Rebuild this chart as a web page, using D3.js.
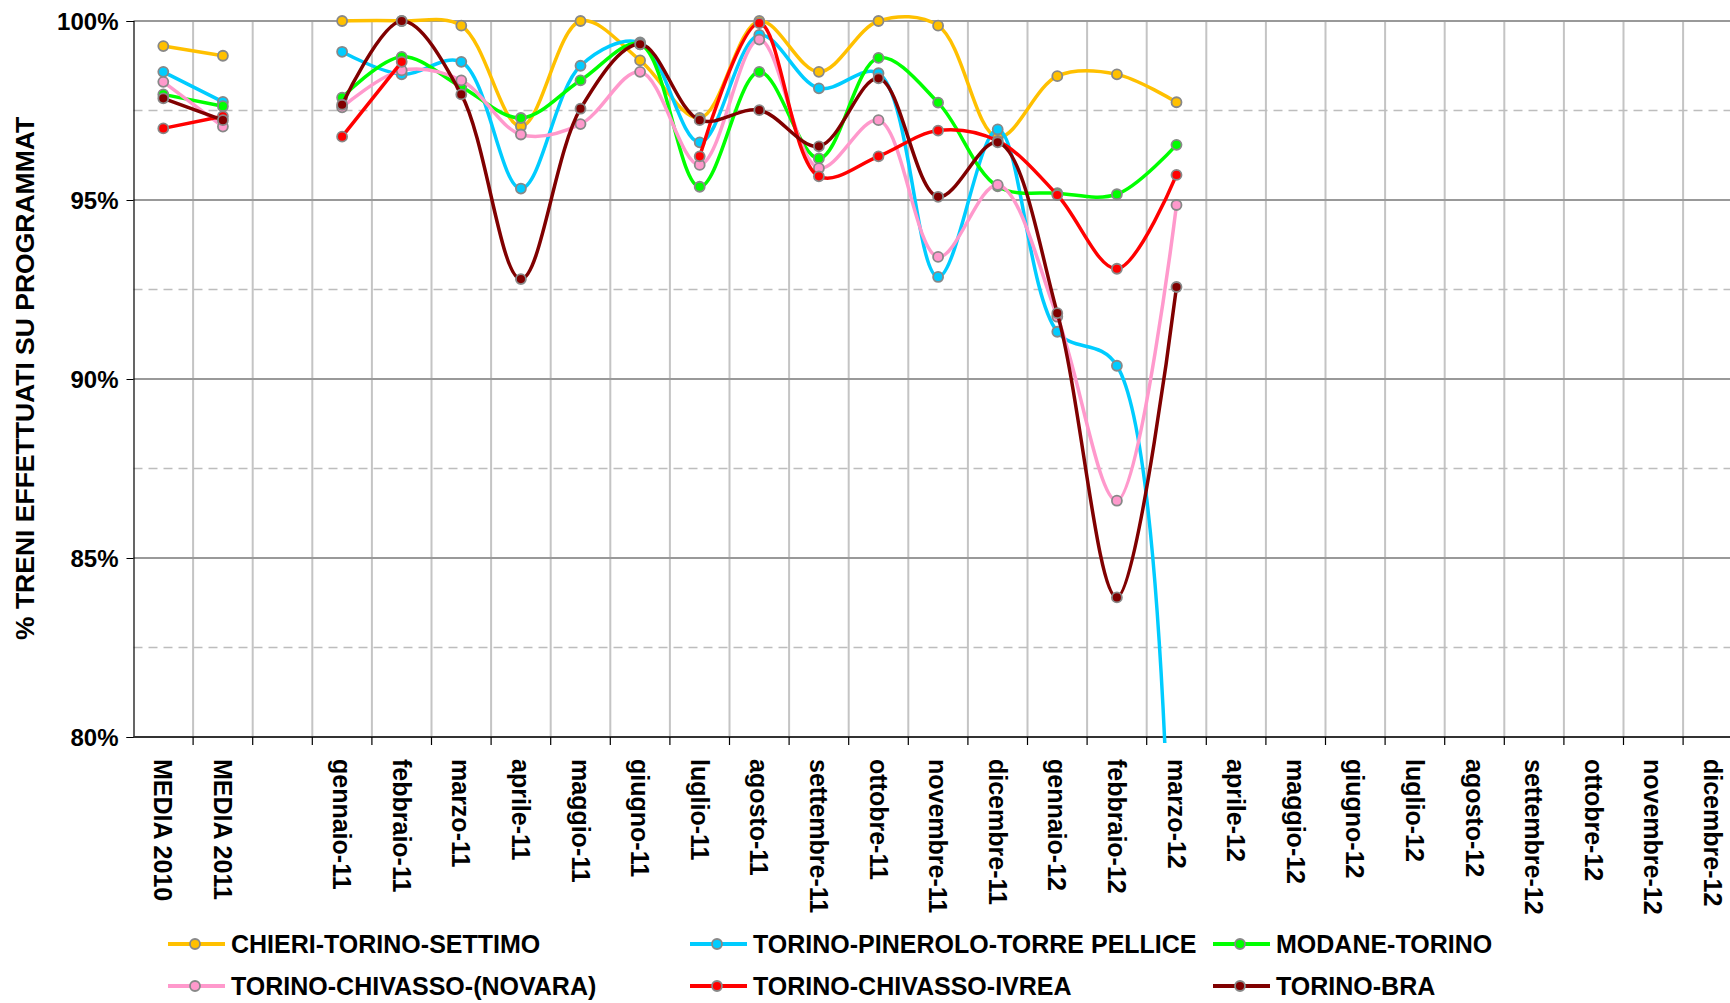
<!DOCTYPE html>
<html>
<head>
<meta charset="utf-8">
<script src="https://cdn.jsdelivr.net/npm/d3@7"></script>
<style>
  body { margin: 0; background: #fff; }
  text { font-family: "Liberation Sans", Arial, sans-serif; font-weight: bold; fill: #000; }
</style>
</head>
<body>
<div id="chart"></div>
<script>
// Categories (blank slot separates the yearly averages from the months)
let categories = ["MEDIA 2010", "MEDIA 2011", "",
  "gennaio-11", "febbraio-11", "marzo-11", "aprile-11", "maggio-11", "giugno-11",
  "luglio-11", "agosto-11", "settembre-11", "ottobre-11", "novembre-11", "dicembre-11",
  "gennaio-12", "febbraio-12", "marzo-12", "aprile-12", "maggio-12", "giugno-12",
  "luglio-12", "agosto-12", "settembre-12", "ottobre-12", "novembre-12", "dicembre-12"];

let seriesNames = ["CHIERI-TORINO-SETTIMO", "TORINO-PINEROLO-TORRE PELLICE", "MODANE-TORINO",
  "TORINO-CHIVASSO-(NOVARA)", "TORINO-CHIVASSO-IVREA", "TORINO-BRA"];
let seriesColors = ["#FFC000", "#00CCFF", "#00FF00", "#FF99CC", "#FF0000", "#800000"];

// values in %, null = no data
let chieri   = [99.30, 99.03, null, 100.0, 100.0, 99.87, 97.06, 100.0, 98.90, 97.29, 100.0, 98.58, 100.0, 99.87, 96.75, 98.46, 98.51, 97.73];
let pinerolo = [98.58, 97.74, null, 99.14, 98.51, 98.86, 95.32, 98.75, 99.40, 96.61, 99.61, 98.12, 98.54, 92.85, 96.97, 91.32, 90.37, 62.0];
let modane   = [97.95, 97.62, null, 97.86, 99.00, 98.16, 97.29, 98.34, 99.35, 95.37, 98.58, 96.16, 98.97, 97.72, 95.38, 95.19, 95.16, 96.54];
let novara   = [98.30, 97.05, null, 97.59, 98.62, 98.34, 96.83, 97.12, 98.58, 95.98, 99.48, 95.89, 97.23, 93.41, 95.42, 91.74, 86.60, 94.86];
let ivrea    = [97.00, 97.34, null, 96.77, 98.86, null, null, null, null, 96.22, 99.94, 95.66, 96.22, 96.94, 96.65, 95.14, 93.08, 95.70];
let bra      = [97.84, 97.23, null, 97.66, 100.0, 97.95, 92.79, 97.55, 99.35, 97.23, 97.51, 96.50, 98.40, 95.09, 96.61, 91.84, 83.90, 92.57];

let allSeries = [chieri, pinerolo, modane, novara, ivrea, bra];

let yTicks = [80, 85, 90, 95, 100];
let yMinor = [82.5, 87.5, 92.5, 97.5];

let svgWidth = 1730;
let svgHeight = 1003;

let plotLeft = 133.5;
let plotTop = 21;
let plotBottom = 737;
let step = 59.6;

let svg = d3.select("#chart")
  .append("svg")
  .attr("width", svgWidth)
  .attr("height", svgHeight);

let x = d3.scaleBand()
  .domain(categories)
  .range([plotLeft, plotLeft + step * categories.length])
  .padding(0);

let y = d3.scaleLinear()
  .domain([80, 100])
  .range([plotBottom, plotTop]);

// clip for the plot contents
let defs = svg.append("defs");
defs.append("clipPath").attr("id", "plotClip")
  .append("rect")
  .attr("x", plotLeft).attr("y", 0)
  .attr("width", svgWidth - plotLeft).attr("height", plotBottom + 6);

defs.append("clipPath").attr("id", "titleClip")
  .append("rect")
  .attr("x", 0).attr("y", 116)
  .attr("width", 60).attr("height", 800);

// vertical gridlines at category boundaries
let grid = svg.append("g");
grid.selectAll("line.vgrid")
  .data(categories.slice(1))
  .enter()
  .append("line")
  .attr("x1", d => x(d))
  .attr("x2", d => x(d))
  .attr("y1", plotTop)
  .attr("y2", plotBottom)
  .attr("stroke", "#c4c4c4")
  .attr("stroke-width", 2);

// dashed minor gridlines
grid.selectAll("line.minor")
  .data(yMinor)
  .enter()
  .append("line")
  .attr("x1", plotLeft)
  .attr("x2", svgWidth)
  .attr("y1", d => y(d))
  .attr("y2", d => y(d))
  .attr("stroke", "#bdbdbd")
  .attr("stroke-width", 1.3)
  .attr("stroke-dasharray", "9,6");

// major gridlines
grid.selectAll("line.major")
  .data(yTicks.slice(1))
  .enter()
  .append("line")
  .attr("x1", plotLeft)
  .attr("x2", svgWidth)
  .attr("y1", d => y(d))
  .attr("y2", d => y(d))
  .attr("stroke", "#999999")
  .attr("stroke-width", 2);

// y axis
let leftAxis = d3.axisLeft(y)
  .tickValues(yTicks)
  .tickSize(7)
  .tickPadding(8)
  .tickFormat(d => d + "%");

let yAxis = svg.append("g")
  .attr("transform", `translate(${plotLeft}, 0)`)
  .call(leftAxis);
yAxis.select(".domain").attr("stroke", "#000").attr("stroke-width", 1.2);
yAxis.selectAll(".tick line").attr("stroke", "#000");
yAxis.selectAll(".tick text")
  .attr("font-size", 24)
  .style("font-family", "'Liberation Sans', Arial, sans-serif")
  .style("font-weight", "bold")
  .attr("dy", "0.35em");

// x axis line and tick marks
svg.append("line")
  .attr("x1", plotLeft).attr("x2", svgWidth)
  .attr("y1", plotBottom).attr("y2", plotBottom)
  .attr("stroke", "#333").attr("stroke-width", 2);

svg.append("g").selectAll("line")
  .data(categories.slice(1))
  .enter()
  .append("line")
  .attr("x1", d => x(d)).attr("x2", d => x(d))
  .attr("y1", plotBottom).attr("y2", plotBottom + 8)
  .attr("stroke", "#000").attr("stroke-width", 1.2);

// rotated category labels
svg.append("g").selectAll("text")
  .data(categories)
  .enter()
  .append("text")
  .attr("transform", d => `translate(${x(d) + step / 2}, 759) rotate(90)`)
  .attr("dy", "0.36em")
  .attr("font-size", 25)
  .text(d => d);

// y axis title (clipped at the top like the original)
svg.append("g")
  .attr("clip-path", "url(#titleClip)")
  .append("text")
  .attr("transform", "translate(24, 640) rotate(-90)")
  .attr("dy", "0.36em")
  .attr("font-size", 26.5)
  .text("% TRENI EFFETTUATI SU PROGRAMMATI");

// lines
let line = d3.line()
  .defined(d => d.v !== null)
  .x(d => x(d.c) + step / 2)
  .y(d => y(d.v))
  .curve(d3.curveCatmullRom.alpha(0.5));

let plot = svg.append("g").attr("clip-path", "url(#plotClip)");

allSeries.forEach(function(values, i) {
  let pts = values.map((v, j) => ({ c: categories[j], v: v }));

  plot.append("path")
    .datum(pts)
    .attr("d", line)
    .attr("fill", "none")
    .attr("stroke", seriesColors[i])
    .attr("stroke-width", 3.5)
    .attr("stroke-linejoin", "round");

  plot.selectAll(null)
    .data(pts.filter(d => d.v !== null))
    .enter()
    .append("circle")
    .attr("cx", d => x(d.c) + step / 2)
    .attr("cy", d => y(d.v))
    .attr("r", 5)
    .attr("fill", seriesColors[i])
    .attr("stroke", "#888")
    .attr("stroke-width", 1.8);
});

// legend
let legendCols = [168, 690, 1213];
let legendRows = [944, 986];

let legend = svg.append("g");
seriesNames.forEach(function(name, i) {
  let lx = legendCols[i % 3];
  let ly = legendRows[Math.floor(i / 3)];
  let item = legend.append("g").attr("transform", `translate(${lx}, ${ly})`);
  item.append("line")
    .attr("x1", 0).attr("x2", 57)
    .attr("y1", 0).attr("y2", 0)
    .attr("stroke", seriesColors[i])
    .attr("stroke-width", 4);
  item.append("circle")
    .attr("cx", 27).attr("cy", 0).attr("r", 5)
    .attr("fill", seriesColors[i])
    .attr("stroke", "#888")
    .attr("stroke-width", 1.8);
  item.append("text")
    .attr("x", 63)
    .attr("dy", "0.36em")
    .attr("font-size", 25)
    .text(name);
});
</script>
</body>
</html>
